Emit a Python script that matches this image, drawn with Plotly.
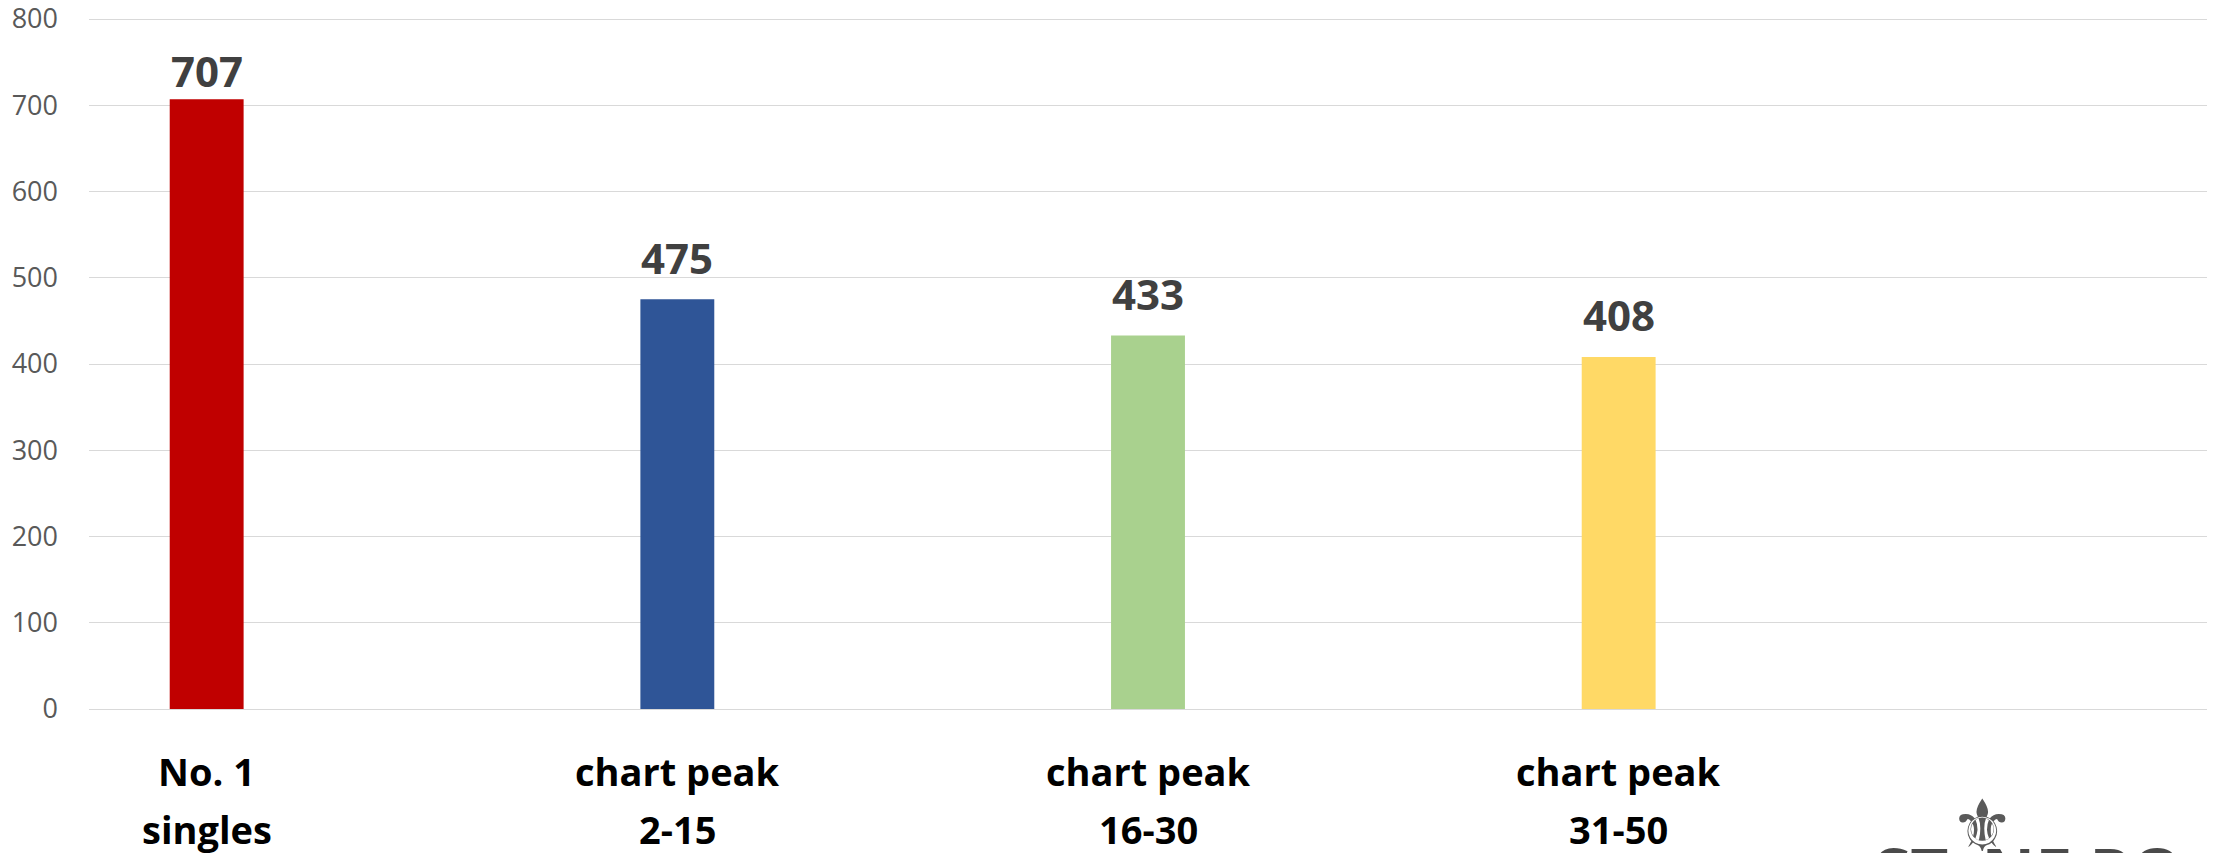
import plotly.graph_objects as go

# Chart data
categories = ["No. 1<br>singles", "chart peak<br>2-15", "chart peak<br>16-30", "chart peak<br>31-50"]
values = [707, 475, 433, 408]
bar_colors = ["#C00000", "#2F5597", "#A9D18E", "#FFD966"]
y_ticks = [0, 100, 200, 300, 400, 500, 600, 700, 800]

# Canvas and plot-area geometry (pixels)
W, H = 2218, 853
M_L, M_R, M_T, M_B = 89, 11, 17, 144
PLOT_H = H - M_T - M_B
PX_PER_UNIT = 690 / 800
Y_TOP = PLOT_H / PX_PER_UNIT          # a hair above 800 so the top gridline shows
AXIS_PX = M_T + PLOT_H

FONT = "Open Sans"
VAL_SIZE = 42
CAT_SIZE = 38

fig = go.Figure(
    go.Bar(
        x=categories,
        y=values,
        marker=dict(color=bar_colors, line=dict(width=0)),
        hoverinfo="skip",
        showlegend=False,
    )
)

annotations = []

# Value labels above each bar; kept inside a top limit for the tallest bar
LABEL_GAP = 25          # baseline distance above bar top
MIN_BASELINE = 88       # highest allowed baseline position
for cat, v in zip(categories, values):
    bar_top = M_T + (Y_TOP - v) * PX_PER_UNIT
    baseline = max(bar_top - LABEL_GAP, MIN_BASELINE)
    descent = 0.293 * VAL_SIZE + 1
    annotations.append(dict(
        x=cat, y=v, xref="x", yref="y",
        text=f"<b>{v}</b>", showarrow=False,
        xanchor="center", yanchor="bottom",
        yshift=bar_top - baseline - descent,
        font=dict(family=FONT, size=VAL_SIZE, color="#404040"),
    ))

# Two-line category labels under the axis
LINE_BASE = 76
LINE_STEP = 58
ascent = 1.069 * CAT_SIZE + 1
for cat in categories:
    for i, line in enumerate(cat.split("<br>")):
        baseline_off = LINE_BASE + LINE_STEP * i
        annotations.append(dict(
            x=cat, y=0, xref="x", yref="y",
            text=f"<b>{line}</b>", showarrow=False,
            xanchor="center", yanchor="top",
            yshift=-(baseline_off - ascent),
            font=dict(family=FONT, size=CAT_SIZE, color="#000000"),
        ))

# Watermark logo in the bottom-right corner, partly cut off by the page edge
PLOT_W = W - M_L - M_R
def px_to_paper_x(px):
    return (px - M_L) / PLOT_W
def px_to_paper_y(py):
    return (AXIS_PX - py) / PLOT_H

annotations.append(dict(
    x=px_to_paper_x(1982), y=px_to_paper_y(782), xref="paper", yref="paper",
    text="\u269C", showarrow=False, xanchor="center", yanchor="top",
    font=dict(family="DejaVu Sans", size=72, color="#5A5A5A"),
))
annotations.append(dict(
    x=px_to_paper_x(1872), y=px_to_paper_y(824), xref="paper", yref="paper",
    text="<b>ST\u2002NE PO</b>", showarrow=False, xanchor="left", yanchor="top",
    font=dict(family=FONT, size=66, color="#4A4A4A"),
))

fig.update_layout(
    width=W, height=H,
    margin=dict(l=M_L, r=M_R, t=M_T, b=M_B, pad=0, autoexpand=False),
    paper_bgcolor="white", plot_bgcolor="white",
    bargap=0.843,
    annotations=annotations,
    xaxis=dict(
        type="category", range=[-0.25, 4.25],
        showticklabels=False, showgrid=False, zeroline=False,
        showline=False, ticks="", automargin=False,
    ),
    yaxis=dict(
        range=[0, Y_TOP], tickvals=y_ticks,
        showgrid=True, gridcolor="#D9D9D9", gridwidth=1.3,
        zeroline=True, zerolinecolor="#D9D9D9", zerolinewidth=1.3,
        showline=False, ticks="", automargin=False,
        ticklabelstandoff=30,
        ticklabeloverflow="allow",
        tickfont=dict(family=FONT, size=27, color="#595959"),
    ),
)

fig.write_html("out.html")
